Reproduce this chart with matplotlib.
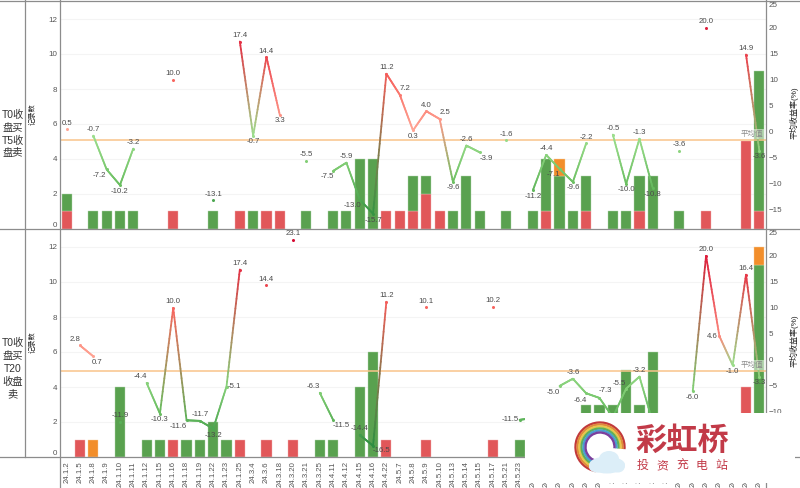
import numpy as np
import matplotlib
matplotlib.use('Agg')
import matplotlib.pyplot as plt
from matplotlib.collections import LineCollection
from matplotlib.colors import LinearSegmentedColormap, Normalize, to_rgb
from matplotlib.patches import Arc, Ellipse, Rectangle

plt.rcParams['font.family'] = ['Liberation Sans', 'Noto Sans CJK SC', 'DejaVu Sans']

# даты по оси X (скрытые логотипом подписи оценены)
dates = ['24.1.2', '24.1.5', '24.1.8', '24.1.9', '24.1.10', '24.1.11', '24.1.12', '24.1.15', '24.1.16',
         '24.1.18', '24.1.19', '24.1.22', '24.1.23', '24.1.25', '24.3.4', '24.3.6', '24.3.18', '24.3.20',
         '24.3.21', '24.3.25', '24.4.11', '24.4.12', '24.4.15', '24.4.16', '24.4.22', '24.5.7', '24.5.8',
         '24.5.9', '24.5.10', '24.5.13', '24.5.14', '24.5.15', '24.5.17', '24.5.21', '24.5.23', '24.5.24',
         '24.5.27', '24.5.28', '24.5.29', '24.5.30', '24.5.31', '24.6.3', '24.6.4', '24.6.5', '24.6.6',
         '24.6.7', '24.6.11', '24.6.12', '24.6.13', '24.6.14', '24.6.17', '24.6.18', '24.6.19']

# верхняя панель: столбцы
t5_red = [1, 0, 0, 0, 0, 0, 0, 0, 1, 0,
          0, 0, 0, 1, 0, 1, 1, 0, 0, 0,
          0, 0, 0, 0, 1, 1, 1, 2, 1, 0,
          0, 0, 0, 0, 0, 0, 1, 0, 0, 1,
          0, 0, 0, 1, 0, 0, 0, 0, 1, 0,
          0, 5, 1]
t5_green = [1, 0, 1, 1, 1, 1, 0, 0, 0, 0,
            0, 1, 0, 0, 1, 0, 0, 0, 1, 0,
            1, 1, 4, 4, 0, 0, 2, 1, 0, 1,
            3, 1, 0, 1, 0, 1, 3, 3, 1, 2,
            0, 1, 1, 2, 3, 0, 1, 0, 0, 0,
            0, 0, 8]
t5_orange = [0] * 37 + [1] + [0] * 15

# верхняя панель: средняя доходность
t5_rate = [0.5, None, -0.7, -7.2, -10.2, -3.2, None, None, 10.0, None,
           None, -13.1, None, 17.4, -0.7, 14.4, 3.3, None, -5.5, None,
           -7.5, -5.9, -13.0, -15.7, 11.2, 7.2, 0.3, 4.0, 2.5, -9.6,
           -2.6, -3.9, None, -1.6, None, -11.2, -4.4, -7.1, -9.6, -2.2,
           None, -0.5, -10.0, -1.3, -10.8, None, -3.6, None, 20.0, None,
           None, 14.9, -3.6]
t5_mean = -1.5

# нижняя панель: столбцы
t20_red = [0, 1, 0, 0, 0, 0, 0, 0, 1, 0,
           0, 0, 0, 1, 0, 1, 0, 1, 0, 0,
           0, 0, 0, 0, 1, 0, 0, 1, 0, 0,
           0, 0, 1, 0, 0, 0, 0, 0, 0, 0,
           0, 0, 0, 0, 0, 0, 0, 0, 0, 0,
           0, 4, 0]
t20_green = [0, 0, 0, 0, 4, 0, 1, 1, 0, 1,
             1, 2, 1, 0, 0, 0, 0, 0, 0, 1,
             1, 0, 4, 6, 0, 0, 0, 0, 0, 0,
             0, 0, 0, 0, 1, 0, 0, 0, 0, 3,
             3, 3, 5, 3, 6, 0, 0, 0, 0, 0,
             0, 0, 11]
t20_orange = [0, 0, 1] + [0] * 49 + [1]

# нижняя панель: средняя доходность (значения под логотипом оценены)
t20_rate = [None, 2.8, 0.7, None, -11.9, None, -4.4, -10.3, 10.0, -11.6,
            -11.7, -13.2, -5.1, 17.4, None, 14.4, None, 23.1, None, -6.3,
            -11.5, None, -14.4, -16.5, 11.2, None, None, 10.1, None, None,
            None, None, 10.2, None, -11.5, -11.2, None, -5.0, -3.6, -6.4,
            -7.3, -11.0, -5.5, -3.2, -12.0, None, None, -6.0, 20.0, 4.6,
            -1.0, 16.4, -3.3]
t20_mean = -2.2

# смещения подписей в пикселях (dx, dy вверх), по умолчанию подпись сверху
t5_offsets = {3: (-7, -6), 4: (0, -6), 14: (0, -6), 16: (0, -6), 20: (-6, -6), 22: (-7, -6), 23: (0, -7),
              25: (5, 6), 26: (0, -6), 28: (5, 6), 29: (0, -6), 31: (7, -6), 35: (0, -6), 37: (-6, -6),
              38: (0, -6), 42: (0, -6), 44: (0, -6), 52: (0, -6)}
t20_offsets = {1: (-5, 6), 2: (4, -6), 6: (-6, 6), 7: (0, -6), 9: (-8, -6), 11: (0, -7), 12: (8, 0),
               19: (-6, 6), 20: (8, -6), 23: (8, -5), 34: (-9, 0), 35: (0, -8), 37: (-6, -6), 39: (-6, -7),
               40: (6, 7), 41: (0, -8), 42: (-7, 5), 44: (0, -8), 47: (0, -6), 49: (-7, 0), 50: (0, -6),
               52: (0, -5)}

RED = '#e15759'
GREEN = '#59a14f'
ORANGE = '#f28e2b'
MEAN = '#f9c48a'
GREY = '#555555'
FRAME = '#8c8c8c'

W, H = 800, 488
rate_norm = Normalize(-17, 23)
rate_cmap = LinearSegmentedColormap.from_list(
    'rate', [(0, '#2a8a3e'), (rate_norm(-10), '#6cc062'), (rate_norm(-0.01), '#a0e090'),
             (rate_norm(0.01), '#ffa897'), (rate_norm(10), '#f8665f'), (1, '#d60a32')])


def rate_color(v):
    return to_rgb(rate_cmap(rate_norm(v)))


def stacked(ax, x, vals, base, color, edge):
    vals = np.array(vals)
    keep = vals > 0
    ax.bar(x[keep], vals[keep], width=0.76, bottom=base[keep], color=color, edgecolor=edge, linewidth=0.3)
    return base + vals


def draw_panel(top, bottom, red, green, orange, rate, offsets, mean):
    ax = fig.add_axes([60 / W, 1 - bottom / H, 706 / W, (bottom - top) / H])
    x = np.arange(len(dates))
    base = np.zeros(len(dates))
    base = stacked(ax, x, red, base, RED, '#f2b5b5')
    base = stacked(ax, x, green, base, GREEN, '#b5d6b0')
    stacked(ax, x, orange, base, ORANGE, '#f8cfa0')
    ax.set_xlim(-0.5, 52.5)
    ax.set_ylim(0, (bottom - top) / 17.5)
    ax.set_yticks(range(0, 13, 2))
    ax.grid(axis='y', color='#f4f4f4', linewidth=0.8)
    ax.set_axisbelow(True)
    ax.tick_params(axis='y', length=0, pad=2.2, labelsize=5.8, labelcolor=GREY)
    ax.get_yticklabels()[0].set_va('bottom')
    for s in ax.spines.values():
        s.set_visible(False)

    # правая ось: доходность
    ax2 = ax.twinx()
    zero = 132 - 1  # 0 правой оси от верха панели
    ax2.set_ylim(-(bottom - top - zero) / 5.2, zero / 5.2)
    ax2.set_yticks(range(-15, 30, 5))
    ax2.tick_params(axis='y', length=0, pad=2.2, labelsize=5.8, labelcolor=GREY)
    ax2.get_yticklabels()[-1].set_va('top')
    for s in ax2.spines.values():
        s.set_visible(False)

    ax2.axhline(mean, color=MEAN, linewidth=1.1, zorder=2)

    # линии с переходом цвета между соседними точками
    for i in range(len(rate) - 1):
        if rate[i] is None or rate[i + 1] is None:
            continue
        t = np.linspace(0, 1, 25)
        xs = i + t
        ys = rate[i] + (rate[i + 1] - rate[i]) * t
        pts = np.column_stack([xs, ys]).reshape(-1, 1, 2)
        segs = np.concatenate([pts[:-1], pts[1:]], axis=1)
        c0 = np.array(rate_color(rate[i]))
        c1 = np.array(rate_color(rate[i + 1]))
        colors = [c0 + (c1 - c0) * a for a in t[:-1]]
        ax2.add_collection(LineCollection(segs, colors=colors, linewidths=1.3, zorder=3, capstyle='round'))

    for i, v in enumerate(rate):
        if v is None:
            continue
        ax2.plot(i, v, 'o', color=rate_color(v), markersize=2.2, markeredgewidth=0, zorder=4)
        dx, dy = offsets.get(i, (0, 6))
        ax2.annotate(f'{v:.1f}', (i, v), xytext=(dx * 0.72, dy * 0.72), textcoords='offset points',
                     ha='center', va='center', fontsize=5.6, color='#4a4a4a', zorder=5)
    return ax


fig = plt.figure(figsize=(W / 100, H / 100), dpi=100)

ax_top = draw_panel(1, 229, t5_red, t5_green, t5_orange, t5_rate, t5_offsets, t5_mean)
ax_top.set_xticks([])

ax_bot = draw_panel(229, 457, t20_red, t20_green, t20_orange, t20_rate, t20_offsets, t20_mean)
ax_bot.set_xticks(range(len(dates)))
ax_bot.set_xticklabels(dates, rotation=90, fontsize=5.6, color=GREY)
ax_bot.tick_params(axis='x', length=0, pad=3)

# слой в пикселях: рамка, подписи, логотип
over = fig.add_axes([0, 0, 1, 1], zorder=10)
over.set_xlim(0, W)
over.set_ylim(H, 0)
over.axis('off')
over.patch.set_alpha(0)

for y in (1, 229, 457):
    over.plot([0, W], [y, y], color=FRAME, linewidth=0.9)
over.plot([24.5, 24.5], [0, 457], color=FRAME, linewidth=0.9)
over.plot([60, 60], [0, H], color=FRAME, linewidth=0.9)
over.plot([766, 766], [0, H], color=FRAME, linewidth=0.9)

over.text(12.5, 134, 'T0收\n盘买\nT5收\n盘卖', ha='center', va='center', fontsize=7.4, color='#333333',
          linespacing=1.35)
over.text(12.5, 369, 'T0收\n盘买\nT20\n收盘\n卖', ha='center', va='center', fontsize=7.4, color='#333333',
          linespacing=1.35)
for y in (114, 342):
    over.text(33, y, '记录数', rotation=90, ha='center', va='center', fontsize=5.2, color='#222222')
for y in (113, 341):
    over.text(794, y, '平均收益率(%)', rotation=90, ha='center', va='center', fontsize=5.8, color='#222222')
for y in (134, 365):
    over.text(763, y, '平均值', ha='right', va='center', fontsize=5.4, color='#8a8a8a',
              bbox=dict(facecolor='white', alpha=0.5, edgecolor='none', pad=0.8))

# логотип
over.add_patch(Rectangle((525, 413), 270, 70, facecolor='white', edgecolor='none', zorder=20))
rainbow = ['#c2393b', '#e08a3c', '#e6c74a', '#5fb05a', '#4a9fd0', '#7a3f9d']
for k, col in enumerate(rainbow):
    d = 49 - k * 4
    over.add_patch(Arc((600, 447), d, d, theta1=100, theta2=365, color=col, linewidth=1.7, zorder=21))
for cx, cy, w, h in [(607, 465, 36, 17), (609, 459, 20, 16), (597, 467, 16, 11), (618, 466, 14, 13)]:
    over.add_patch(Ellipse((cx, cy), w, h, facecolor='#dceef8', edgecolor='none', zorder=22))
over.text(682.5, 442, '彩虹桥', ha='center', va='center', fontsize=22.5, fontweight='bold', color='#c23a48', zorder=23)
for k, ch in enumerate('投资充电站'):
    over.text(643 + k * 19.6, 466, ch, ha='center', va='center', fontsize=8.6, color='#c23a48', zorder=23)

fig.savefig('out.png', dpi=100)
